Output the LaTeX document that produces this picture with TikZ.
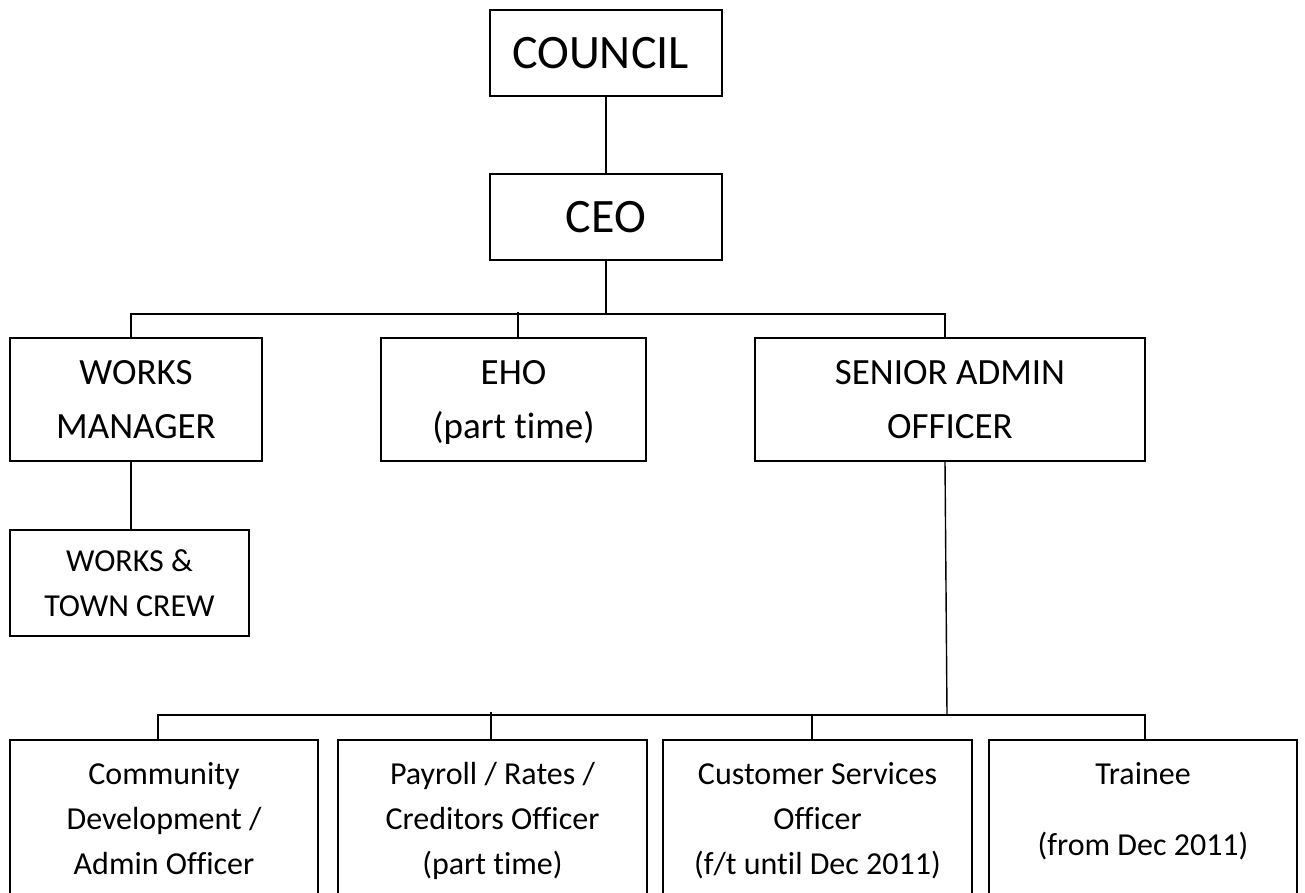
\documentclass[tikz,border=0pt]{standalone}
\usepackage{fontspec}
\setmainfont{Carlito}[Ligatures=NoCommon]
\tikzset{
  orgbox/.style={draw, line width=1.4pt, inner sep=0pt, align=center, text=black, text depth=0pt},
  conn/.style={line width=1.4pt},
  bigtxt/.style={font=\fontsize{48}{53}\selectfont},
  midtxt/.style={font=\fontsize{37}{54}\selectfont},
  smalltxt/.style={font=\fontsize{32}{45}\selectfont},
}
\begin{document}
\begin{tikzpicture}[x=1pt,y=-1pt]
\path[use as bounding box] (0,0) rectangle (1305,893);
\clip (0,0) rectangle (1305,893);

% top
\node[orgbox,bigtxt,minimum width=232pt,minimum height=86pt] (council) at (606,53) {COUNCIL\hspace*{11pt}};
\node[orgbox,bigtxt,minimum width=232pt,minimum height=86pt] (ceo) at (606,217) {CEO};

% second level
\node[orgbox,midtxt,minimum width=252pt,minimum height=123pt] (wm) at (136,399.5) {WORKS\\MANAGER};
\node[orgbox,midtxt,minimum width=265pt,minimum height=123pt] (eho) at (513.5,399.5) {EHO\\(part time)};
\node[orgbox,midtxt,minimum width=390pt,minimum height=123pt] (sao) at (950,399.5) {SENIOR ADMIN\\OFFICER};

% works crew
\node[orgbox,smalltxt,minimum width=239pt,minimum height=106pt] (wtc) at (129.5,583) {WORKS \&\\TOWN CREW};

% bottom row
\node[orgbox,smalltxt,minimum width=308pt,minimum height=156pt] (comm) at (164,818) {Community\\Development /\\Admin Officer};
\node[orgbox,smalltxt,minimum width=309pt,minimum height=156pt] (pay) at (492.5,818) {Payroll / Rates /\\Creditors Officer\\(part time)};
\node[orgbox,smalltxt,minimum width=309pt,minimum height=156pt] (cust) at (817.5,818) {Customer Services\\Officer\\(f/t until Dec 2011)};
\node[orgbox,smalltxt,minimum width=308pt,minimum height=156pt,text depth=18.5pt] (train) at (1143,818) {Trainee\\[26pt](from Dec 2011)};

% connectors
\coordinate (busT) at (606,314);
\coordinate (busB) at (947,715);
\draw[conn] (council) -- (ceo);
\draw[conn] (ceo) -- (busT);
\draw[conn] ([xshift=-5pt]wm.north) |- ([xshift=-5pt]sao.north |- busT) -- ([xshift=-5pt]sao.north);
\draw[conn] ([xshift=4.5pt]eho.north) -- ([xshift=4.5pt]eho.north |- 0,311.5);
\draw[conn] ([xshift=-5pt]wm.south) -- ([xshift=-5pt]wm.south |- wtc.north);
\draw[conn] ([xshift=-5pt]sao.south) -- (busB);
\draw[conn] ([xshift=-6pt]comm.north) |- ([xshift=2pt]train.north |- busB) -- ([xshift=2pt]train.north);
\draw[conn] ([xshift=-1.5pt]pay.north) -- ([xshift=-1.5pt]pay.north |- 0,712);
\draw[conn] ([xshift=-5.5pt]cust.north) -- ([xshift=-5.5pt]cust.north |- busB);
\end{tikzpicture}
\end{document}
